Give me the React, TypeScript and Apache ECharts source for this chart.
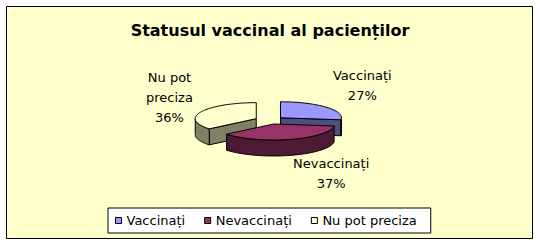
import React, { useEffect, useRef } from "react";
import * as echarts from "echarts";

// Chart content
const titleText = "Statusul vaccinal al pacienților";
const categories = ["Vaccinați", "Nevaccinați", "Nu pot preciza"];
const values = [27, 37, 36];
// Data-label wording (category name split over lines) — the percentage line is computed
const labelNames = [["Vaccinați"], ["Nevaccinați"], ["Nu pot", "preciza"]];

// Palette: face colour and darker wall colour per category
const topColors = ["#9999FF", "#993366", "#FFFFCC"];
const sideColors = ["#4D4D80", "#4D1A33", "#808066"];

// 3D pie geometry (pixels)
const CX = 269.5;
const CY = 120.3;
const RX = 61;
const RY = 16;
const DEPTH = 16;
const EXPLODE = 0.24;
const LABEL_RX = 70;
const LABEL_RY = 51;

const FONT_FAMILY = "'DejaVu Sans', sans-serif";
const LABEL_SIZE = 13;

const total = values.reduce((a, b) => a + b, 0);
const startAngles: number[] = [];
{
  let acc = 0;
  values.forEach((v) => {
    startAngles.push((acc / total) * 360);
    acc += v;
  });
}

const rad = (d: number) => (d * Math.PI) / 180;

let measureCtx: CanvasRenderingContext2D | null = null;
function textWidth(text: string, font: string): number {
  if (!measureCtx) {
    measureCtx = document.createElement("canvas").getContext("2d");
  }
  if (!measureCtx) return text.length * 7;
  measureCtx.font = font;
  return measureCtx.measureText(text).width;
}

function renderSlice(params: any, api: any) {
  const i = params.seriesIndex as number;
  const v = api.value(0) as number;
  const a0 = startAngles[i];
  const a1 = a0 + (v / total) * 360;
  const mid = (a0 + a1) / 2;
  const ax = CX + EXPLODE * RX * Math.sin(rad(mid));
  const ay = CY - EXPLODE * RY * Math.cos(rad(mid));
  const P = (t: number, dz = 0): number[] => [
    ax + RX * Math.sin(rad(t)),
    ay - RY * Math.cos(rad(t)) + dz,
  ];
  const arc = (from: number, to: number, dz = 0): number[][] => {
    const pts: number[][] = [];
    const n = Math.max(2, Math.ceil(Math.abs(to - from) / 2));
    for (let k = 0; k <= n; k++) pts.push(P(from + ((to - from) * k) / n, dz));
    return pts;
  };

  const wallStyle = {
    fill: sideColors[i],
    stroke: "#000",
    lineWidth: 1,
    lineJoin: "round",
  };
  const children: any[] = [];

  // cut face at the start angle (visible when it faces the viewer)
  if (Math.sin(rad(a0)) < -1e-6) {
    children.push({
      type: "polygon",
      shape: { points: [[ax, ay], P(a0), P(a0, DEPTH), [ax, ay + DEPTH]] },
      style: wallStyle,
    });
  }
  // cut face at the end angle
  if (Math.sin(rad(a1)) > 1e-6) {
    children.push({
      type: "polygon",
      shape: { points: [[ax, ay], P(a1), P(a1, DEPTH), [ax, ay + DEPTH]] },
      style: wallStyle,
    });
  }
  // outer curved wall, front half only
  const s = Math.max(a0, 90);
  const e = Math.min(a1, 270);
  if (e > s) {
    children.push({
      type: "polygon",
      shape: { points: [...arc(s, e), ...arc(e, s, DEPTH)] },
      style: wallStyle,
    });
  }
  // top face
  children.push({
    type: "polygon",
    shape: { points: [[ax, ay], ...arc(a0, a1)] },
    style: { fill: topColors[i], stroke: "#000", lineWidth: 1, lineJoin: "round" },
  });

  // data label: name lines plus percentage, placed outside the slice
  const pct = Math.round((v / total) * 100) + "%";
  const lines = [...labelNames[i], pct];
  const font = `${LABEL_SIZE}px ${FONT_FAMILY}`;
  const w = Math.max(...lines.map((l) => textWidth(l, font)));
  const sx = Math.sin(rad(mid));
  const side = sx >= 0 ? 1 : -1;
  children.push({
    type: "text",
    style: {
      text: lines.join("\n"),
      x: ax + LABEL_RX * sx + (side * w) / 2,
      y: ay - LABEL_RY * Math.cos(rad(mid)) + 1,
      align: "center",
      verticalAlign: "middle",
      fontSize: LABEL_SIZE,
      fontFamily: FONT_FAMILY,
      lineHeight: 20,
      fill: "#000",
    },
  });

  return { type: "group", children };
}

// Slices nearer the viewer are drawn later
const depthRank = values.map((v, i) => {
  const mid = startAngles[i] + (v / total) * 180;
  return -Math.cos(rad(mid));
});
const order = depthRank
  .map((d, i) => ({ d, i }))
  .sort((p, q) => p.d - q.d)
  .map((p) => p.i);

export default function App() {
  const ref = useRef<HTMLDivElement>(null);

  useEffect(() => {
    if (!ref.current) return;
    const chart = echarts.init(ref.current, null, { renderer: "svg" });
    chart.setOption({
      animation: false,
      backgroundColor: "#ffffff",
      title: {
        text: titleText,
        left: "center",
        top: 22,
        padding: 0,
        textStyle: {
          fontFamily: FONT_FAMILY,
          fontSize: 16,
          fontWeight: "bold",
          color: "#000",
        },
      },
      graphic: {
        elements: [
          {
            type: "rect",
            z: -10,
            silent: true,
            shape: { x: 6.5, y: 6.5, width: 526, height: 232 },
            style: { fill: "#FFFFCC", stroke: "#000", lineWidth: 1 },
          },
        ],
      },
      legend: {
        data: categories,
        orient: "horizontal",
        left: 108,
        top: 208,
        icon: "rect",
        itemWidth: 6,
        itemHeight: 6,
        itemGap: 19,
        padding: [6, 14, 6, 7],
        backgroundColor: "#ffffff",
        borderColor: "#000",
        borderWidth: 1,
        borderRadius: 0,
        selectedMode: false,
        itemStyle: { borderColor: "#000", borderWidth: 1 },
        textStyle: { fontFamily: FONT_FAMILY, fontSize: 13, color: "#000" },
      },
      series: categories.map((name, i) => ({
        type: "custom",
        name,
        coordinateSystem: "none",
        z: 2 + order.indexOf(i),
        itemStyle: { color: topColors[i], borderColor: "#000", borderWidth: 1 },
        data: [[values[i]]],
        renderItem: renderSlice,
      })),
    });
    return () => chart.dispose();
  }, []);

  return (
    <div
      ref={ref}
      style={{ position: "absolute", left: 0, top: 0, width: 540, height: 246 }}
    />
  );
}
